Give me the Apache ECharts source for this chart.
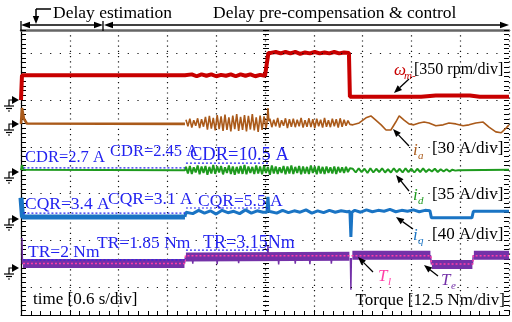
<!DOCTYPE html>
<html>
<head>
<meta charset="utf-8">
<script src="https://cdn.jsdelivr.net/npm/echarts@6/dist/echarts.min.js"></script>
<style>
  html, body { margin: 0; padding: 0; background: #fff; }
  #chart { width: 512px; height: 322px; }
</style>
</head>
<body>
<div id="chart"></div>
<script>
// x: time in divisions (0.6 s/div), y: screen divisions (dotted rows at 0..5)
var gridRows = [0, 1, 2, 3, 4, 5];

// speed  wm
var wmHead = [[0.00, 4.00], [0.02, 4.53], [3.36, 4.53]];
var wmNoise1 = [4.53, 4.55, 4.51, 4.55, 4.52, 4.55, 4.51, 4.54, 4.52, 4.55, 4.51, 4.55, 4.52, 4.55, 4.51, 4.54, 4.52];
var wmStep = [[5.04, 4.52], [5.07, 5.01]];
var wmNoise2 = [5.01, 5.03, 5.00, 5.03, 5.00, 5.03, 4.99, 5.02, 5.00, 5.03, 5.00, 5.02, 5.00, 5.03, 5.00, 5.02];
var wmTail = [[6.72, 5.01], [6.74, 4.07], [8.20, 4.07], [8.50, 4.10], [9.20, 4.10], [9.40, 4.07], [10, 4.07]];

// phase current ia
var iaHead = [[0.00, 3.49], [0.02, 3.83], [0.06, 3.60], [0.12, 3.50], [3.36, 3.49]];
var iaNoise1 = [3.58, 3.44, 3.60, 3.41, 3.57, 3.45, 3.61, 3.40, 3.59, 3.43,
  3.64, 3.37, 3.66, 3.39, 3.62, 3.35, 3.68, 3.38, 3.65, 3.34,
  3.69, 3.36, 3.63, 3.33, 3.67, 3.38, 3.70, 3.34, 3.64, 3.36,
  3.68, 3.33, 3.66, 3.37, 3.70, 3.35, 3.63, 3.32, 3.67, 3.36,
  3.65, 3.40];
var iaSpike = [[5.04, 3.50], [5.06, 3.83], [5.08, 3.55]];
var iaNoise2 = [3.60, 3.42, 3.58, 3.44, 3.62, 3.41, 3.57, 3.45, 3.61, 3.40,
  3.59, 3.43, 3.60, 3.42, 3.58, 3.44, 3.62, 3.41, 3.57, 3.43,
  3.61, 3.42, 3.59, 3.40, 3.60, 3.44, 3.58, 3.41, 3.62, 3.43,
  3.57, 3.42, 3.60, 3.44, 3.59, 3.41, 3.61, 3.43, 3.58, 3.45,
  3.56, 3.48];
var iaSlow = [[6.80, 3.47], [6.93, 3.51], [7.07, 3.62], [7.17, 3.66], [7.27, 3.57], [7.38, 3.47], [7.48, 3.36], [7.58, 3.36], [7.68, 3.53], [7.75, 3.66], [7.85, 3.57], [7.95, 3.49], [8.05, 3.47], [8.16, 3.51], [8.26, 3.53], [8.36, 3.51], [8.50, 3.45], [8.65, 3.47], [8.77, 3.51], [8.91, 3.49], [9.06, 3.45], [9.18, 3.47], [9.32, 3.51], [9.47, 3.53], [9.59, 3.42], [9.73, 3.32], [9.84, 3.30], [9.94, 3.40], [10, 3.47]];

// d-axis current id
var idHead = [[0.00, 2.50], [0.02, 2.61], [0.05, 2.51], [3.36, 2.50]];
var idNoise1 = [2.57, 2.43, 2.59, 2.42, 2.56, 2.45, 2.60, 2.41, 2.58, 2.44,
  2.59, 2.40, 2.57, 2.43, 2.61, 2.42, 2.58, 2.45, 2.59, 2.41,
  2.56, 2.44, 2.60, 2.42, 2.58, 2.40, 2.57, 2.43, 2.59, 2.42,
  2.61, 2.41, 2.58, 2.44, 2.57, 2.42, 2.60, 2.43, 2.58, 2.41,
  2.59, 2.44, 2.57, 2.40, 2.60, 2.43, 2.58, 2.42, 2.56, 2.44,
  2.59, 2.41, 2.58, 2.43, 2.60, 2.42, 2.57, 2.44, 2.59, 2.41,
  2.58, 2.43, 2.57, 2.42, 2.60, 2.44, 2.58, 2.41, 2.59, 2.43,
  2.57, 2.42, 2.58, 2.44, 2.56, 2.43, 2.58, 2.42, 2.57, 2.45,
  2.56, 2.44, 2.57, 2.46, 2.54];
var idRipple = [2.53, 2.45, 2.54, 2.46, 2.53, 2.44, 2.54, 2.45, 2.53, 2.46, 2.54, 2.45, 2.52, 2.45, 2.54, 2.46, 2.53, 2.45, 2.54, 2.46, 2.53, 2.45, 2.53, 2.46, 2.54, 2.46, 2.52, 2.47, 2.53, 2.46, 2.52, 2.47, 2.52, 2.47, 2.51, 2.49];
var idTail = [[8.96, 2.50], [10, 2.51]];

// q-axis current iq
var iqHead = [[0.00, 1.91], [0.03, 1.50], [3.36, 1.50]];
var iqStart = [[3.36, 1.50], [3.38, 1.60]];
var iqNoise1 = [1.62, 1.57, 1.64, 1.58, 1.63, 1.56, 1.64, 1.59, 1.62, 1.57, 1.65, 1.58, 1.63, 1.60];
var iqSpike = [[5.04, 1.60], [5.06, 1.93], [5.08, 1.62]];
var iqNoise2 = [1.62, 1.58, 1.64, 1.59, 1.63, 1.60, 1.65, 1.58, 1.63, 1.59, 1.64, 1.60, 1.63, 1.61];
var iqDip = [[6.74, 1.62], [6.76, 1.07], [6.78, 1.60]];
var iqMid = [1.64, 1.60, 1.65, 1.61, 1.64, 1.62, 1.66, 1.61, 1.64, 1.62, 1.65, 1.61, 1.64];
var iqTail = [[8.38, 1.63], [8.41, 1.48], [9.24, 1.48], [9.27, 1.62], [10, 1.62]];

// torque Te (band + edges/spikes) and load torque Tl
var teBand = [[0.04, 0.50], [3.35, 0.50], [3.36, '-'], [3.38, 0.64], [6.73, 0.66], [6.75, '-'], [6.79, 0.68], [8.39, 0.68], [8.40, '-'], [8.42, 0.48], [9.25, 0.48], [9.26, '-'], [9.28, 0.68], [10, 0.68]];
var teEdges = [[0.02, 1.05], [0.03, 0.50], [0.06, 0.50], [0.1, '-'], [3.35, 0.50], [3.37, 0.64], [3.4, '-'], [8.39, 0.68], [8.41, 0.48], [8.5, '-'], [9.25, 0.48], [9.27, 0.68]];
var teSpikeT = [3.52, 4.02, 4.46, 5.06, 5.28, 5.62, 5.92, 6.36, 6.76];
var teSpikeV = [0.50, 0.49, 0.51, 0.88, 0.48, 0.50, 0.49, 0.50, -0.06];
var tlData = [[0.04, 0.50], [3.36, 0.50], [3.37, 0.67], [8.40, 0.67], [8.41, 0.49], [9.26, 0.49], [9.27, 0.67], [10, 0.67]];

// dotted reference lines under CDR / CQR / TR
var cdrRef = [[0.05, 2.55], [3.36, 2.55], [3.37, '-'], [3.38, 2.65], [5.10, 2.65]];
var cqrRef = [[0.05, 1.58], [3.36, 1.58], [3.37, '-'], [3.38, 1.69], [5.10, 1.69]];
var trRef = [[0.05, 0.58], [3.36, 0.58], [3.37, '-'], [3.38, 0.79], [5.10, 0.79]];

var cdrLabels = ['CDR=2.7 A', 'CDR=2.45 A', 'CDR=10.5 A'];
var cqrLabels = ['CQR=3.4 A', 'CQR=3.1 A', 'CQR=5.5 A'];
var trLabels = ['TR=2 Nm', 'TR=1.85 Nm', 'TR=3.15Nm'];

var FONT = '"Liberation Serif", "Times New Roman", serif';
var RED = '#c80000', BROWN = '#aa5a1a', GREEN = '#1e9a1e', BLUE = '#1a74c4', PURPLE = '#7431a8', PINK = '#ff3fa8', LBLUE = '#2323f0';

function seg(t0, step, vals) {
  return vals.map(function (v, i) { return [+(t0 + i * step).toFixed(3), v]; });
}
function spikes(ts, vs, base) {
  var out = [];
  ts.forEach(function (t, i) {
    out.push([t - 0.01, base], [t, vs[i]], [t + 0.01, base], [t + 0.015, '-']);
  });
  return out;
}

var wmData = wmHead.concat(seg(3.40, 0.1, wmNoise1), wmStep, seg(5.12, 0.1, wmNoise2), wmTail);
var iaData = seg(3.38, 0.04, iaNoise1).concat(iaSpike, seg(5.10, 0.04, iaNoise2), iaSlow);
var idData = idHead.concat(seg(3.38, 0.04, idNoise1), seg(6.80, 0.06, idRipple), idTail);
var iqData = iqStart.concat(seg(3.40, 0.12, iqNoise1), iqSpike, seg(5.12, 0.12, iqNoise2), iqDip, seg(6.84, 0.12, iqMid), iqTail);
var teThin = teEdges.concat([[9.3, '-']], spikes(teSpikeT, teSpikeV, 0.62));

function trace(name, data, color, width, z) {
  return {
    name: name, type: 'line', data: data, showSymbol: false, symbol: 'none', z: z || 2,
    lineStyle: { color: color, width: width }, animation: false, silent: true
  };
}
function ref(data) {
  return {
    type: 'line', data: data, showSymbol: false, symbol: 'none', z: 6, silent: true, animation: false,
    lineStyle: { color: LBLUE, width: 1.2, type: [2, 2] }
  };
}

var series = [
  {
    type: 'line', data: [], silent: true, z: 1,
    markLine: {
      silent: true, symbol: ['none', 'none'], label: { show: false }, animation: false,
      lineStyle: { color: '#111', width: 1.2, type: [1.2, 8.5] },
      data: gridRows.map(function (v) { return { yAxis: v }; })
    }
  },
  trace('wm', wmData, RED, 4),
  trace('ia0', iaHead, BROWN, 2.6),
  trace('ia', iaData, BROWN, 1.6),
  trace('id', idData, GREEN, 2),
  trace('iq0', iqHead, BLUE, 5),
  trace('iq', iqData, BLUE, 3),
  trace('Te', teBand, PURPLE, 9),
  trace('Te2', teThin, PURPLE, 1.5),
  {
    type: 'line', data: tlData, showSymbol: false, symbol: 'none', z: 5, silent: true, animation: false,
    lineStyle: { color: PINK, width: 1.5, type: [2, 2] }
  },
  ref(cdrRef), ref(cqrRef), ref(trRef)
];

// ---- annotations ----
var G = [];
function txt(x, y, s, size, color, opt) {
  opt = opt || {};
  G.push({
    type: 'text', z: 100, silent: true,
    style: {
      x: x, y: y, text: s, fill: color,
      font: (opt.italic ? 'italic ' : '') + size + 'px ' + FONT,
      textAlign: opt.align || 'left', textVerticalAlign: 'middle'
    }
  });
}
function line(x1, y1, x2, y2, w) {
  G.push({ type: 'line', z: 100, silent: true, shape: { x1: x1, y1: y1, x2: x2, y2: y2 }, style: { stroke: '#000', lineWidth: w || 1.3 } });
}
function head(x2, y2, a, L, H) {
  var bx = x2 - L * Math.cos(a), by = y2 - L * Math.sin(a);
  G.push({
    type: 'polygon', z: 100, silent: true,
    shape: { points: [[x2, y2], [bx - H * Math.sin(a), by + H * Math.cos(a)], [bx + H * Math.sin(a), by - H * Math.cos(a)]] },
    style: { fill: '#000' }
  });
  return [bx, by];
}
function arrow(x1, y1, x2, y2) {
  var a = Math.atan2(y2 - y1, x2 - x1);
  var b = head(x2, y2, a, 8, 3.2);
  line(x1, y1, b[0], b[1], 1.3);
}
function sym(x, y, s, sub, color) {
  txt(x, y, s, 17, color, { italic: true });
  txt(x + (s === 'i' ? 5 : 10), y + 5, sub, 11, color, { italic: true });
}
function ground(y) {
  G.push({ type: 'polygon', z: 100, silent: true, shape: { points: [[12, y - 4], [19, y], [12, y + 4]] }, style: { fill: '#000' } });
  G.push({ type: 'polyline', z: 100, silent: true, shape: { points: [[13, y], [9, y], [9, y + 6]] }, style: { stroke: '#000', lineWidth: 1.2, fill: null } });
  line(4, y + 6, 14, y + 6, 1.2);
  line(6, y + 8.5, 12, y + 8.5, 1.2);
  line(8, y + 11, 10, y + 11, 1.2);
}

// top phase arrows
txt(53, 13, 'Delay estimation', 17.5, '#000');
txt(213, 13, 'Delay pre-compensation & control', 17.5, '#000');
line(21, 21, 21, 31, 1.3);
line(103, 21, 103, 31, 1.3);
line(29, 25, 95, 25, 1.3);
head(21, 25, Math.PI, 9, 3.2);
head(103, 25, 0, 9, 3.2);
line(112, 25, 500, 25, 1.3);
head(104, 25, Math.PI, 9, 3.2);
head(509, 25, 0, 9, 3.2);
line(51, 9, 36, 9, 1.5);
line(36, 9, 36, 16, 1.5);
head(36, 24, Math.PI / 2, 8, 3.2);

// ground markers
[100, 124, 172, 219, 268].forEach(ground);

// reference value labels
txt(25, 158, cdrLabels[0], 16.5, LBLUE);
txt(110, 152, cdrLabels[1], 16.5, LBLUE);
txt(190, 155, cdrLabels[2], 18.5, LBLUE);
txt(25, 204, cqrLabels[0], 17.5, LBLUE);
txt(108, 199, cqrLabels[1], 17.5, LBLUE);
txt(198, 201, cqrLabels[2], 17.5, LBLUE);
txt(28, 252, trLabels[0], 17.5, LBLUE);
txt(97, 243, trLabels[1], 17.5, LBLUE);
txt(203, 243, trLabels[2], 18, LBLUE);

// trace labels
sym(394, 71, 'ω', 'm-', RED);
txt(414, 70, '[350 rpm/div]', 16, '#000');
arrow(409, 79, 394, 93);
sym(413, 151, 'i', 'a', BROWN);
txt(432, 149, '[30 A/div]', 17, '#000');
arrow(409, 146, 393, 129);
sym(413, 196, 'i', 'd', GREEN);
txt(432, 195, '[35 A/div]', 17, '#000');
arrow(409, 191, 396, 175);
sym(413, 236, 'i', 'q', BLUE);
txt(432, 235, '[40 A/div]', 17, '#000');
arrow(413, 229, 396, 217);
sym(378, 277, 'T', 'l', PINK);
arrow(373, 272, 358, 257);
sym(441, 281, 'T', 'e', PURPLE);
arrow(438, 276, 424, 265);
txt(33, 300, 'time [0.6 s/div]', 17, '#000');
txt(505, 301, 'Torque [12.5 Nm/div]', 17, '#000', { align: 'right' });

var yBase = { type: 'value', min: -0.6, max: 5.5, interval: 0.1, axisLabel: { show: false }, splitLine: { show: false } };
function yAx(extra) { return Object.assign({}, yBase, extra); }

var chart = echarts.init(document.getElementById('chart'), null, { renderer: 'canvas' });
chart.setOption({
  animation: false,
  backgroundColor: '#fff',
  grid: { left: 21, right: 3, top: 30, bottom: 7 },
  xAxis: [
    {
      type: 'value', min: 0, max: 10, interval: 1, position: 'bottom',
      axisLine: { show: true, onZero: false, lineStyle: { color: '#000', width: 1.2 } },
      axisTick: { show: true, inside: true, length: 5, lineStyle: { color: '#000' } },
      minorTick: { show: true, splitNumber: 5, length: 4, lineStyle: { color: '#000' } },
      axisLabel: { show: false },
      splitLine: { show: true, lineStyle: { color: '#111', width: 1.2, type: [1.2, 4] } }
    },
    {
      type: 'value', min: 0, max: 10, position: 'top',
      axisLine: { show: true, onZero: false, lineStyle: { color: '#666', width: 2.5 } },
      axisTick: { show: false }, axisLabel: { show: false }, splitLine: { show: false }
    }
  ],
  yAxis: [
    yAx({ position: 'left', axisLine: { show: true, onZero: false, lineStyle: { color: '#000', width: 1.2 } },
      axisTick: { show: true, inside: true, length: 5, lineStyle: { color: '#000' } } }),
    yAx({ position: 'left', offset: -245, axisLine: { show: false, onZero: false },
      axisTick: { show: true, inside: true, length: 3, lineStyle: { color: '#000' } } }),
    yAx({ position: 'left', offset: -245, axisLine: { show: false, onZero: false },
      axisTick: { show: true, inside: false, length: 3, lineStyle: { color: '#000' } } }),
    yAx({ position: 'right', axisLine: { show: false, onZero: false },
      axisTick: { show: true, inside: true, length: 5, lineStyle: { color: '#000' } } })
  ],
  series: series,
  graphic: { elements: G }
});
</script>
</body>
</html>
